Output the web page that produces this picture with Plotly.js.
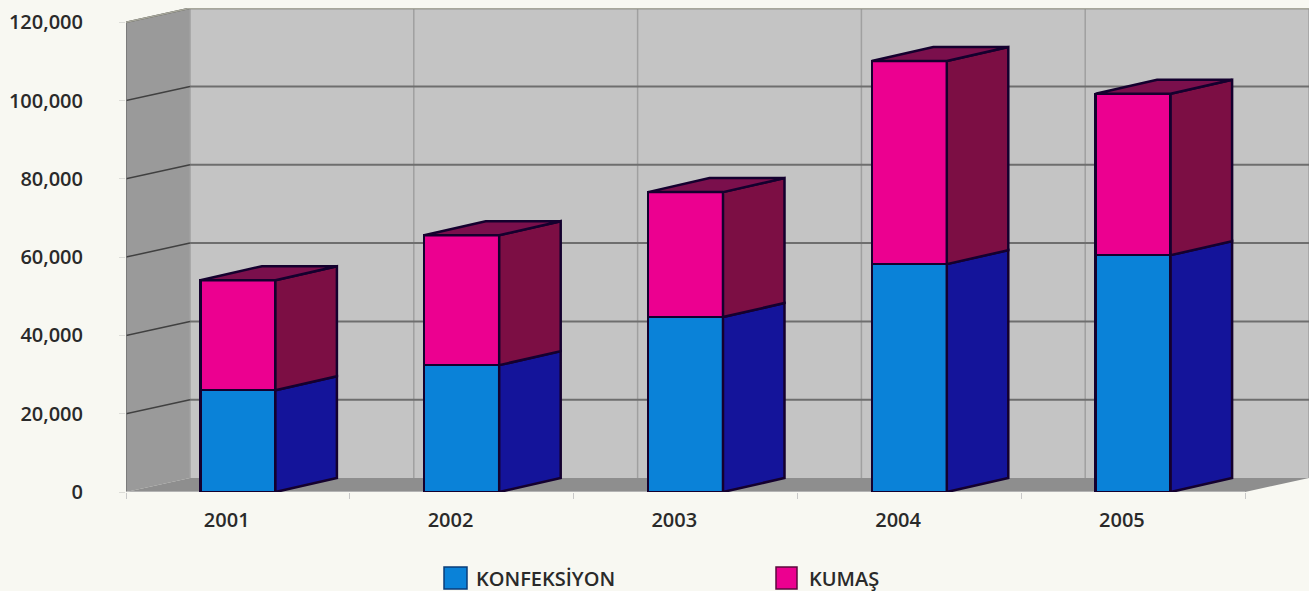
<!DOCTYPE html>
<html><head><meta charset="utf-8">
<script src="https://cdn.plot.ly/plotly-3.0.1.min.js"></script>
<style>html,body{margin:0;padding:0;background:#F8F8F2}</style>
</head><body><div id="chart" style="width:1309px;height:591px"></div>
<script>
const years = ['2001','2002','2003','2004','2005'];
const konfeksiyon = [26000,32400,44700,58200,60500];
const kumas = [28100,33200,31900,51900,41200];
const yTicks = [0,20000,40000,60000,80000,100000,120000];
const yTickText = ['0','20,000','40,000','60,000','80,000','100,000','120,000'];
const seriesNames = ['KONFEKSİYON','KUMAŞ'];

const W=1309,H=591,ML=126,MT=8,MB=99;
const slotPx=223.8, unitPx=0.003915;
const xMax=(W-ML)/slotPx, yMax=(H-MB-MT)/unitPx;
const depthX=64/slotPx, depthY=14/unitPx, barDepthX=61.5/slotPx, barW=75/slotPx;
const C={bg:'#F8F8F2',wall:'#C4C4C4',left:'#9A9A9A',floor:'#8E8E8E',grid:'#6E6E6E',edge:'#14002E',
  blue:'#0A82D8',blueSide:'#14149A',pink:'#EC0090',pinkSide:'#7C0E44',pinkTop:'#7A0F4C',text:'#2A2A2A'};
const centers=years.map((_,i)=>i+0.5);
const n=years.length;
const poly=(pts,fill,line,w)=>({type:'path',xref:'x',yref:'y',layer:'below',
  path:'M'+pts.map(p=>p[0]+','+p[1]).join('L')+'Z',fillcolor:fill,line:{color:line||fill,width:w||0}});
const seg=(x0,y0,x1,y1,color,w)=>({type:'line',xref:'x',yref:'y',layer:'below',x0,y0,x1,y1,line:{color,width:w||1.5}});
const yTop=yTicks[yTicks.length-1];

const shapes=[
  poly([[depthX,depthY],[xMax,depthY],[xMax,yTop+depthY],[depthX,yTop+depthY]],C.wall),
  poly([[0,0],[depthX,depthY],[depthX,yTop+depthY],[0,yTop]],C.left),
  poly([[0,0],[n,0],[xMax,depthY],[depthX,depthY]],C.floor)
];
for(let i=0;i<=n;i++) shapes.push(seg(i+depthX,depthY,i+depthX,yTop+depthY,'#A0A0A0',1.5));
yTicks.forEach(t=>{ if(t>0){
  shapes.push(seg(0,t,depthX,t+depthY,'#404040',1.5));
  shapes.push(seg(depthX,t+depthY,xMax,t+depthY,C.grid,2));
}});
shapes.push(seg(0,0,0,yTop,'#707070',1.5));
shapes.push(seg(0,yTop,depthX,yTop+depthY,'#A8A89C',1.5));
shapes.push(seg(depthX,yTop+depthY,xMax,yTop+depthY,'#A8A89C',2));
shapes.push(seg(0,0,n,0,'#D8D8D8',1));

// legend swatches (paper coordinates)
const px=(x)=>(x-ML)/(W-ML), py=(y)=>1-(y-MT)/(H-MT-MB);
const swatches=[[444,467,C.blue,'#0A3C78'],[776,797,C.pink,'#5A0A3C']];
swatches.forEach(s=>shapes.push({type:'rect',xref:'paper',yref:'paper',x0:px(s[0]),x1:px(s[1]),
  y0:py(589),y1:py(567),fillcolor:s[2],line:{color:s[3],width:1.5}}));
const font={family:'"Open Sans",sans-serif',size:20,color:C.text,weight:600};
const annotations=[[474,seriesNames[0]],[807,seriesNames[1]]].map(a=>({xref:'paper',yref:'paper',
  x:px(a[0]),y:py(578),xanchor:'left',yanchor:'middle',text:a[1],showarrow:false,font}));

function sideFaces(bases,tops){
  const xs=[],ys=[];
  centers.forEach((c,i)=>{const r=c+barW/2;
    xs.push(r,r+barDepthX,r+barDepthX,r,r,null);
    ys.push(bases[i],bases[i]+depthY,tops[i]+depthY,tops[i],bases[i],null);});
  return {xs,ys};
}
const totals=konfeksiyon.map((v,i)=>v+kumas[i]);
const zero=years.map(()=>0);
const sBlue=sideFaces(zero,konfeksiyon), sPink=sideFaces(konfeksiyon,totals);
const tx=[],ty=[];
centers.forEach((c,i)=>{const l=c-barW/2,r=c+barW/2,t=totals[i];
  tx.push(l,l+barDepthX,r+barDepthX,r,l,null);ty.push(t,t+depthY,t+depthY,t,t,null);});
const scat=(x,y,fill)=>({type:'scatter',mode:'lines',x,y,fill:'toself',fillcolor:fill,
  line:{color:C.edge,width:2.5},hoverinfo:'skip',showlegend:false,connectgaps:false});
const bar=(y,name,color)=>({type:'bar',x:centers,y,name,width:barW,cliponaxis:false,
  marker:{color,line:{color:C.edge,width:2.5}},showlegend:false});
const traces=[bar(konfeksiyon,seriesNames[0],C.blue),bar(kumas,seriesNames[1],C.pink),
  scat(sBlue.xs,sBlue.ys,C.blueSide),scat(sPink.xs,sPink.ys,C.pinkSide),scat(tx,ty,C.pinkTop)];
const layout={width:W,height:H,paper_bgcolor:C.bg,plot_bgcolor:C.bg,barmode:'stack',
  margin:{l:ML,r:0,t:MT,b:MB,pad:0},showlegend:false,shapes,annotations,font,
  xaxis:{range:[0,xMax],tickmode:'array',tickvals:centers.map(c=>c-0.05),ticktext:years,ticks:'',
    showgrid:false,zeroline:false,showline:false,ticklabelstandoff:14,tickfont:font,fixedrange:true,
    minor:{tickmode:'array',tickvals:Array.from({length:n+1},(_,i)=>i),ticks:'outside',ticklen:6,tickcolor:'#C8C8C8',showgrid:false}},
  yaxis:{range:[0,yMax],tickmode:'array',tickvals:yTicks,ticktext:yTickText,ticks:'outside',ticklen:6,
    tickcolor:'#DDDDD8',showgrid:false,zeroline:false,showline:false,ticklabelstandoff:32,tickfont:font,fixedrange:true}};
Plotly.newPlot('chart',traces,layout,{displayModeBar:false,staticPlot:true});
</script></body></html>
